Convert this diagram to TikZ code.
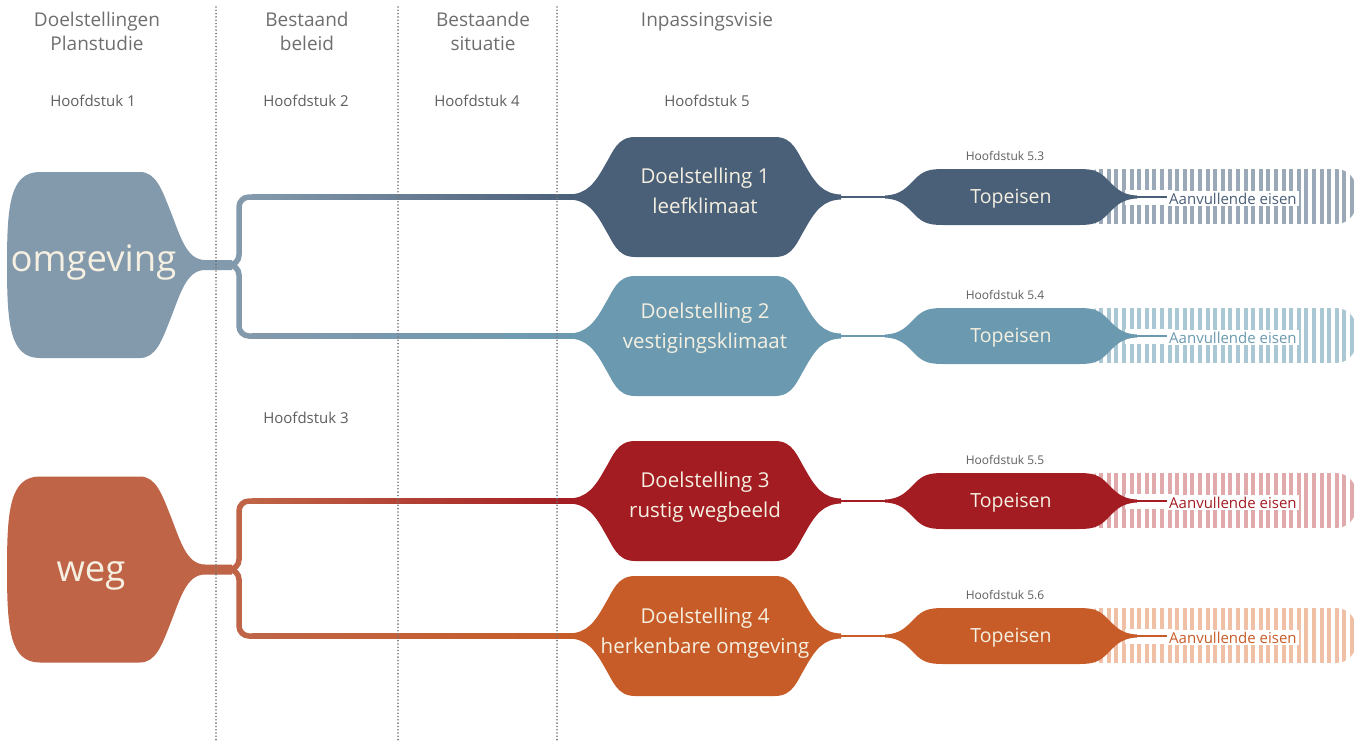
\documentclass[tikz,border=0pt]{standalone}
\usepackage{fontspec}
\setmainfont{Open Sans}
\usepackage{tikz}
\usetikzlibrary{positioning}

\definecolor{omgcol}{HTML}{8399AC}
\definecolor{wegcol}{HTML}{BF6446}
\definecolor{doelA}{HTML}{4A5F78}
\definecolor{doelB}{HTML}{6B9AB0}
\definecolor{doelC}{HTML}{A31C22}
\definecolor{doelD}{HTML}{C85C28}
\definecolor{stripA}{HTML}{9AA8B7}
\definecolor{stripB}{HTML}{AAC7D4}
\definecolor{stripC}{HTML}{E0A9AB}
\definecolor{stripD}{HTML}{EFC0A5}
\definecolor{cream}{HTML}{F5F0E1}
\definecolor{kopgrijs}{HTML}{6E6E6E}

\tikzset{
  kop/.style={text=kopgrijs, align=center, font=\fontsize{19}{23.3}\selectfont},
  hfdst/.style={text=kopgrijs!85!black, font=\fontsize{15}{17}\selectfont},
  subhfdst/.style={text=kopgrijs!85!black, font=\fontsize{12}{14}\selectfont},
  grens/.style={kopgrijs!95, line width=1.8, dash pattern=on 0pt off 3.3pt, line cap=round},
  groot/.style={text=cream, font=\fontsize{36.5}{40}\selectfont},
  doeltekst/.style={text=cream, align=center, font=\fontsize{20.5}{30}\selectfont},
  toptekst/.style={text=cream, font=\fontsize{19.5}{22}\selectfont},
  aanvtekst/.style={fill=white, inner xsep=2, inner ysep=0, minimum height=15, font=\fontsize{15}{17}\selectfont},
  tak/.style={line width=5.5, rounded corners=10},
  dun/.style={line width=2.2},
  bron/.pic={
    \fill[pic actions] (7,0) .. controls (7,-60) and (10,-93) .. (40,-93) -- (140,-93)
      .. controls (156,-93) and (162,-75) .. (170,-55) .. controls (180,-30) and (186,-5) .. (205,-5)
      -- (232,-5) -- (232,5) -- (205,5) .. controls (186,5) and (180,30) .. (170,55)
      .. controls (162,75) and (156,93) .. (140,93) -- (40,93) .. controls (10,93) and (7,60) .. (7,0) -- cycle;
  },
  doel/.pic={
    \fill[pic actions] (-136,-2.5) .. controls (-118,-3) and (-110,-14) .. (-100,-32)
      .. controls (-92,-45) and (-88,-60) .. (-70,-60) -- (70,-60)
      .. controls (88,-60) and (92,-45) .. (100,-32) .. controls (110,-14) and (118,-3) .. (136,-2.5)
      -- (136,2.5) .. controls (118,3) and (110,14) .. (100,32) .. controls (92,45) and (88,60) .. (70,60)
      -- (-70,60) .. controls (-88,60) and (-92,45) .. (-100,32) .. controls (-110,14) and (-118,3) .. (-136,2.5) -- cycle;
  },
  toppic/.pic={
    \fill[pic actions] (-126,-1.5) .. controls (-110,-2) and (-104,-10) .. (-96,-18)
      .. controls (-88,-26) and (-82,-28) .. (-68,-28) -- (68,-28)
      .. controls (82,-28) and (88,-26) .. (96,-18) .. controls (104,-10) and (110,-2) .. (126,-1.5)
      -- (126,1.5) .. controls (110,2) and (104,10) .. (96,18) .. controls (88,26) and (82,28) .. (68,28)
      -- (-68,28) .. controls (-82,28) and (-88,26) .. (-96,18) .. controls (-104,10) and (-110,2) .. (-126,1.5) -- cycle;
  },
}

\begin{document}
\begin{tikzpicture}[x=1pt,y=-1pt]
  \useasboundingbox (0,0) rectangle (1365,742);

  % kolomkoppen
  \node[kop, anchor=base] (kop1) at (97,50) {Doelstellingen\\Planstudie};
  \node[kop, anchor=base] (kop2) at (307,50) {Bestaand\\beleid};
  \node[kop, anchor=base] (kop3) at (483,50) {Bestaande\\situatie};
  \node[kop, anchor=base] (kop4) at (707,26.7) {Inpassingsvisie};

  \node[hfdst, anchor=base] (h1) at (93,106.5) {Hoofdstuk 1};
  \node[hfdst, anchor=base] (h2) at (306,106.5) {Hoofdstuk 2};
  \node[hfdst, anchor=base] (h4) at (477,106.5) {Hoofdstuk 4};
  \node[hfdst, anchor=base] (h5) at (707,106.5) {Hoofdstuk 5};
  \node[hfdst, anchor=base] (h3) at (306,423.5) {Hoofdstuk 3};

  \foreach \r/\cy in {1/197,2/336,3/501,4/636} {
    \coordinate (d\r w) at (569,\cy);
    \coordinate (d\r e) at (841,\cy);
    \coordinate (t\r w) at (885,\cy);
    \coordinate (t\r e) at (1137,\cy);
  }
  \coordinate (omgtak) at (239,265);
  \coordinate (omgstam) at (226,265);
  \coordinate (wegtak) at (239,569.5);
  \coordinate (wegstam) at (226,569.5);

  % takken
  \draw[tak, omgcol] (d1w) -| (omgtak) -- (omgstam);
  \draw[tak, omgcol] (d2w) -| (omgtak) -- (omgstam);
  \draw[tak, wegcol] (d3w) -| (wegtak) -- (wegstam);
  \draw[tak, wegcol] (d4w) -| (wegtak) -- (wegstam);
  \shade[left color=omgcol, right color=doelA] (252,194.25) rectangle (575,199.75);
  \shade[left color=omgcol, right color=doelB] (252,333.25) rectangle (575,338.75);
  \shade[left color=wegcol, right color=doelC] (252,498.25) rectangle (575,503.75);
  \shade[left color=wegcol, right color=doelD] (252,633.25) rectangle (575,638.75);

  % bronnen
  \pic[fill=omgcol] at (0,265) {bron};
  \pic[fill=wegcol] at (0,569.5) {bron};
  \node[groot, anchor=base] (omg) at (93.5,271) {omgeving};
  \node[groot, anchor=base] (weg) at (91,581) {weg};

  % doelstellingen
  \pic[fill=doelA] at (705,197) {doel};
  \pic[fill=doelB] at (705,336) {doel};
  \pic[fill=doelC] at (705,501) {doel};
  \pic[fill=doelD] at (705,636) {doel};
  \node[doeltekst, anchor=base] (d1) at (705,213) {Doelstelling 1\\leefklimaat};
  \node[doeltekst, anchor=base] (d2) at (705,348) {Doelstelling 2\\vestigingsklimaat};
  \node[doeltekst, anchor=base] (d3) at (705,517) {Doelstelling 3\\rustig wegbeeld};
  \node[doeltekst, anchor=base] (d4) at (705,653) {Doelstelling 4\\herkenbare omgeving};

  % topeisen en aanvullende eisen
  \foreach \r/\cy/\kleur/\streep/\hs in {1/197/doelA/stripA/5.3, 2/336/doelB/stripB/5.4,
      3/501/doelC/stripC/5.5, 4/636/doelD/stripD/5.6} {
    \node[subhfdst, anchor=base] (h\r) at (1005,\cy-37) {Hoofdstuk \hs};
    \begin{scope}
      \clip[rounded corners=20] (1080,\cy-28) rectangle (1356,\cy+27);
      \foreach \i in {0,...,35}
        \fill[\streep] (1084+7.6*\i,\cy-28) rectangle ++(4,55);
    \end{scope}
    \fill[white] (1125,\cy-7.5) rectangle (1172,\cy+7.5);
    \node[aanvtekst, text=\kleur, anchor=west] (a\r) at (1167,\cy+1.5) {Aanvullende eisen};
    \pic[fill=\kleur] at (1011,\cy) {toppic};
    \draw[dun, \kleur] (d\r e) -- (t\r w);
    \draw[dun, \kleur] (t\r e) -- (t\r e -| a\r.west);
    \node[toptekst, anchor=base] (t\r) at (1011,\cy+6) {Topeisen};
  }

  % kolomgrenzen
  \foreach \x in {216,398,557}
    \draw[grens] (\x,7) -- (\x,742);
\end{tikzpicture}
\end{document}
